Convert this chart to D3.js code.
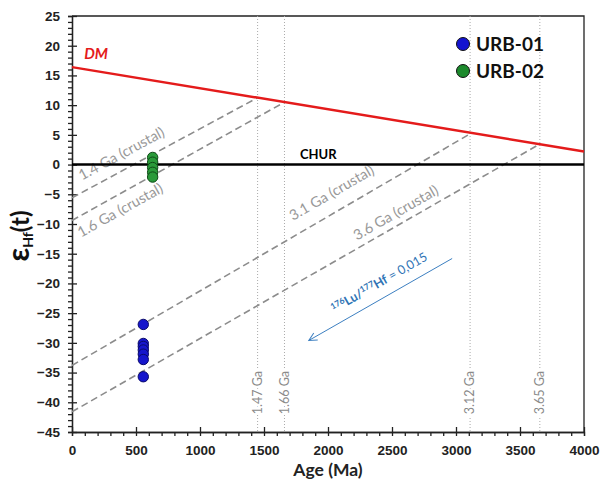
<!DOCTYPE html>
<html>
<head>
<meta charset="utf-8">
<script src="https://cdn.jsdelivr.net/npm/d3@7"></script>
<style>
  body { margin: 0; background: #fff; }
  svg { display: block; font-family: Lato, "DejaVu Sans", sans-serif; }
  .axis text { font-size: 13.5px; font-weight: 700; fill: #222; }
  .axis path, .axis line { stroke: #222; stroke-width: 1.3; }
</style>
</head>
<body>
<div id="chart"></div>
<script>
const xTicks = [0, 500, 1000, 1500, 2000, 2500, 3000, 3500, 4000];
const yTicks = [-45, -40, -35, -30, -25, -20, -15, -10, -5, 0, 5, 10, 15, 20, 25];

const dmLine = [[0, 16.4], [4000, 2.2]];
const churLine = [[0, 0], [4000, 0]];

const crustalNames = ["1.4 Ga (crustal)", "1.6 Ga (crustal)", "3.1 Ga (crustal)", "3.6 Ga (crustal)"];
const crustalLines = [
  [[0, -5.6], [1450, 11.25]],
  [[0, -9.4], [1660, 10.5]],
  [[0, -33.8], [3120, 5.3]],
  [[0, -41.6], [3650, 3.4]],
];
const crustalLabelAt = [[78, -2.7], [70, -12.3], [1727, -9.5], [2227, -12.8]];

const tdmAges = [1450, 1660, 3110, 3655];
const tdmLabels = ["1.47 Ga", "1.66 Ga", "3.12 Ga", "3.65 Ga"];

const seriesNames = ["URB-01", "URB-02"];
const urb01Age = 557;
const urb01Eps = [-26.9, -30.1, -30.6, -31.2, -31.9, -32.8, -35.7];
const urb02Age = 630;
const urb02Eps = [1.2, 0.4, -0.5, -1.3, -2.1];

const ratioArrow = [[2970, -15.8], [1850, -29.6]];
const ratioLabelAt = [2050, -25.0];

const width = 602, height = 486;
const margin = { top: 16, right: 18, bottom: 54, left: 72 };

const x = d3.scaleLinear().domain([0, 4000]).range([margin.left, width - margin.right]);
const y = d3.scaleLinear().domain([-45, 25]).range([height - margin.bottom, margin.top]);

const svg = d3.select("#chart").append("svg").attr("width", width).attr("height", height);

const angleOf = ([[a0, e0], [a1, e1]]) =>
  (Math.atan2(y(e1) - y(e0), x(a1) - x(a0)) * 180) / Math.PI;

// minor ticks (outward), then major ticks (inward) with labels
svg.append("g")
  .attr("class", "axis")
  .attr("transform", `translate(${margin.left},0)`)
  .call(d3.axisLeft(y).tickValues(d3.range(-45, 26, 1)).tickSize(4).tickFormat(""));
svg.append("g")
  .attr("class", "axis")
  .attr("transform", `translate(${margin.left},0)`)
  .call(d3.axisLeft(y).tickValues(yTicks).tickSizeInner(-5).tickSizeOuter(0).tickPadding(12));

svg.append("g")
  .attr("class", "axis")
  .attr("transform", `translate(0,${y(-45)})`)
  .call(d3.axisBottom(x).tickValues(d3.range(0, 4001, 100)).tickSize(4).tickFormat(""));
svg.append("g")
  .attr("class", "axis")
  .attr("transform", `translate(0,${y(-45)})`)
  .call(d3.axisBottom(x).tickValues(xTicks).tickFormat(d3.format("d"))
    .tickSizeInner(-5).tickSizeOuter(0).tickPadding(13));

// top and right frame
svg.append("path")
  .attr("d", `M${x(0)},${y(25)}H${x(4000)}V${y(-45)}`)
  .attr("fill", "none")
  .attr("stroke", "#222")
  .attr("stroke-width", 1.3);

const line = d3.line().x((d) => x(d[0])).y((d) => y(d[1]));

// model age verticals
const tdm = svg.append("g").selectAll("g").data(tdmAges).join("g");
tdm.append("line")
  .attr("x1", (d) => x(d)).attr("x2", (d) => x(d))
  .attr("y1", y(25)).attr("y2", y(-45))
  .attr("stroke", "#aaa")
  .attr("stroke-width", 1)
  .attr("stroke-dasharray", "1,2");
tdm.append("text")
  .attr("transform", (d) => `translate(${x(d)},${y(-42)}) rotate(-90)`)
  .attr("dy", "0.35em")
  .attr("fill", "#8a8a8a")
  .attr("stroke", "#fff")
  .attr("stroke-width", 5)
  .attr("paint-order", "stroke")
  .style("font-size", "12.5px")
  .text((d, i) => tdmLabels[i]);

// crustal evolution lines
svg.append("g").selectAll("path").data(crustalLines).join("path")
  .attr("d", line)
  .attr("fill", "none")
  .attr("stroke", "#8c8c8c")
  .attr("stroke-width", 1.6)
  .attr("stroke-dasharray", "7,4");
svg.append("g").selectAll("text").data(crustalNames).join("text")
  .attr("transform", (d, i) =>
    `translate(${x(crustalLabelAt[i][0])},${y(crustalLabelAt[i][1])}) rotate(${angleOf(crustalLines[i])})`)
  .attr("fill", "#999")
  .style("font-size", "14.5px")
  .text((d) => d);

// CHUR and DM
svg.append("path").attr("d", line(churLine)).attr("stroke", "#000").attr("stroke-width", 2.5);
svg.append("path").attr("d", line(dmLine)).attr("stroke", "#e41b1b").attr("stroke-width", 2.5);
svg.append("text")
  .attr("x", 300).attr("y", y(0) - 6)
  .style("font-size", "13px").style("font-weight", 700)
  .text("CHUR");
svg.append("text")
  .attr("x", x(95)).attr("y", y(17.8))
  .attr("fill", "#e41b1b")
  .style("font-size", "15px").style("font-weight", 700).style("font-style", "italic")
  .text("DM");

// 176Lu/177Hf arrow
svg.append("defs").append("marker")
  .attr("id", "head")
  .attr("viewBox", "-10 -6 12 12")
  .attr("markerWidth", 12).attr("markerHeight", 12)
  .attr("markerUnits", "userSpaceOnUse")
  .attr("orient", "auto")
  .append("path")
  .attr("d", "M-8,-4L0,0L-8,4")
  .attr("fill", "none")
  .attr("stroke", "#3c7fc1")
  .attr("stroke-width", 1);
svg.append("path")
  .attr("d", line(ratioArrow))
  .attr("stroke", "#3c7fc1")
  .attr("stroke-width", 1)
  .attr("marker-end", "url(#head)");
const ratio = svg.append("text")
  .attr("transform", `translate(${x(ratioLabelAt[0])},${y(ratioLabelAt[1])}) rotate(${angleOf(ratioArrow) + 180})`)
  .attr("fill", "#2f74b5")
  .style("font-size", "12.5px")
  .style("font-weight", 700);
ratio.append("tspan").attr("dy", -4).style("font-size", "8.5px").text("176");
ratio.append("tspan").attr("dy", 4).text("Lu/");
ratio.append("tspan").attr("dy", -4).style("font-size", "8.5px").text("177");
ratio.append("tspan").attr("dy", 4).text("Hf");
ratio.append("tspan").style("font-weight", 400).text(" = 0,015");

// samples
const dot = (g, age, values, fill, stroke) =>
  g.selectAll("circle").data(values).join("circle")
    .attr("cx", x(age))
    .attr("cy", (d) => y(d))
    .attr("r", 5.2)
    .attr("fill", fill)
    .attr("stroke", stroke)
    .attr("stroke-width", 1);
dot(svg.append("g"), urb01Age, urb01Eps, "#1616cc", "#0a0a6a");
dot(svg.append("g"), urb02Age, urb02Eps, "#2a9a3a", "#0d4a16");

// legend
const legend = svg.append("g").selectAll("g").data(seriesNames).join("g")
  .attr("transform", (d, i) => `translate(463,${44 + i * 27})`);
legend.append("circle")
  .attr("r", 6.5)
  .attr("fill", (d, i) => (i ? "#1c8a2c" : "#1414d0"))
  .attr("stroke", "#111")
  .attr("stroke-width", 1);
legend.append("text")
  .attr("x", 13).attr("dy", "0.36em")
  .style("font-size", "19px").style("font-weight", 700).attr("fill", "#111")
  .text((d) => d);

// axis titles
svg.append("text")
  .attr("x", 328).attr("y", 476)
  .attr("text-anchor", "middle")
  .style("font-size", "17.5px").style("font-weight", 700).attr("fill", "#222")
  .text("Age (Ma)");
const yTitle = svg.append("text")
  .attr("transform", `translate(29,236) rotate(-90)`)
  .attr("text-anchor", "middle")
  .style("font-weight", 700).attr("fill", "#111");
yTitle.append("tspan").style("font-size", "30px").text("ε");
yTitle.append("tspan").attr("dy", 4).style("font-size", "14px").text("Hf");
yTitle.append("tspan").attr("dy", -4).style("font-size", "24px").text("(t)");
</script>
</body>
</html>
